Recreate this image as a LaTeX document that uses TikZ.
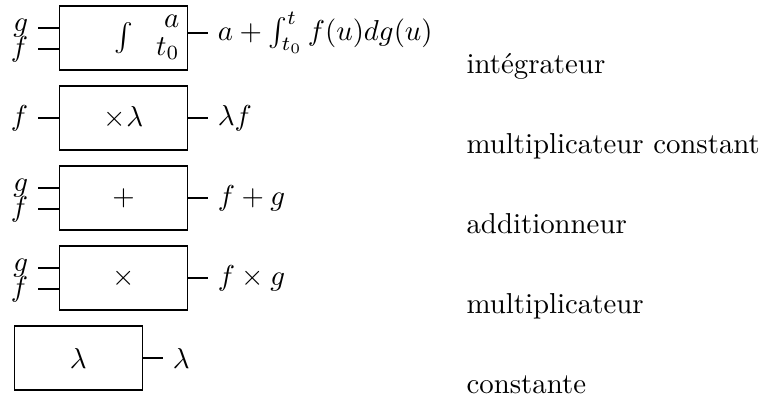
\RequirePackage{fix-cm}
\documentclass[tikz,border=0pt]{standalone}
\begin{document}
\begin{tikzpicture}[x=0.0125cm,y=-0.0125cm,
  every node/.style={font=\fontsize{10.25}{12.3}\selectfont},
  blk/.style={draw, line width=0.4pt, minimum width=1.6cm, minimum height=0.8cm, inner sep=0pt},
  wire/.style={line width=0.4pt},
  lblin/.style={anchor=east},
  lblout/.style={anchor=west},
  desc/.style={anchor=base west, inner sep=0pt}]
\useasboundingbox (0,0) rectangle (763,401);

% --- integrator ---
\node[blk] (B1) at (123.5,38) {};
\node (I1) at (B1.center) {$\int$};
\node[anchor=base east, inner sep=0pt] (A1) at (180,27) {$a$};
\node[anchor=base east, inner sep=0pt] (T1) at (180,55) {$t_0$};
\coordinate (g1) at (38,28);
\coordinate (f1) at (38,49);
\coordinate (o1) at (208,33);
\draw[wire] (g1) -- (g1 -| B1.west);
\draw[wire] (f1) -- (f1 -| B1.west);
\draw[wire] (o1 -| B1.east) -- (o1);
\node[lblin] (lg1) at (g1) {$g$};
\node[lblin] (lf1) at (f1) {$f$};
\node[lblout] (lo1) at (o1) {$a+\int_{t_0}^{t} f(u)dg(u)$};
\node[desc] (d1) at (466,73) {intégrateur};

% --- constant multiplier ---
\node[blk] (B2) at (123.5,118) {$\times\lambda$};
\coordinate (f2) at (38,118);
\coordinate (o2) at (208,118);
\draw[wire] (f2) -- (B2.west);
\draw[wire] (B2.east) -- (o2);
\node[lblin] (lf2) at (f2) {$f$};
\node[lblout] (lo2) at (o2) {$\lambda f$};
\node[desc] (d2) at (466,153) {multiplicateur constant};

% --- adder ---
\node[blk] (B3) at (123.5,198) {$+$};
\coordinate (g3) at (38,188);
\coordinate (f3) at (38,209);
\coordinate (o3) at (208,198);
\draw[wire] (g3) -- (g3 -| B3.west);
\draw[wire] (f3) -- (f3 -| B3.west);
\draw[wire] (B3.east) -- (o3);
\node[lblin] (lg3) at (g3) {$g$};
\node[lblin] (lf3) at (f3) {$f$};
\node[lblout] (lo3) at (o3) {$f+g$};
\node[desc] (d3) at (466,233) {additionneur};

% --- multiplier ---
\node[blk] (B4) at (123.5,278) {$\times$};
\coordinate (g4) at (38,268);
\coordinate (f4) at (38,289);
\coordinate (o4) at (208,278);
\draw[wire] (g4) -- (g4 -| B4.west);
\draw[wire] (f4) -- (f4 -| B4.west);
\draw[wire] (B4.east) -- (o4);
\node[lblin] (lg4) at (g4) {$g$};
\node[lblin] (lf4) at (f4) {$f$};
\node[lblout] (lo4) at (o4) {$f\times g$};
\node[desc] (d4) at (466,313) {multiplicateur};

% --- constant ---
\node[blk] (B5) at (78.3,358) {$\lambda$};
\coordinate (o5) at (163,358);
\draw[wire] (B5.east) -- (o5);
\node[lblout] (lo5) at (o5) {$\lambda$};
\node[desc] (d5) at (466,393) {constante};
\end{tikzpicture}
\end{document}
